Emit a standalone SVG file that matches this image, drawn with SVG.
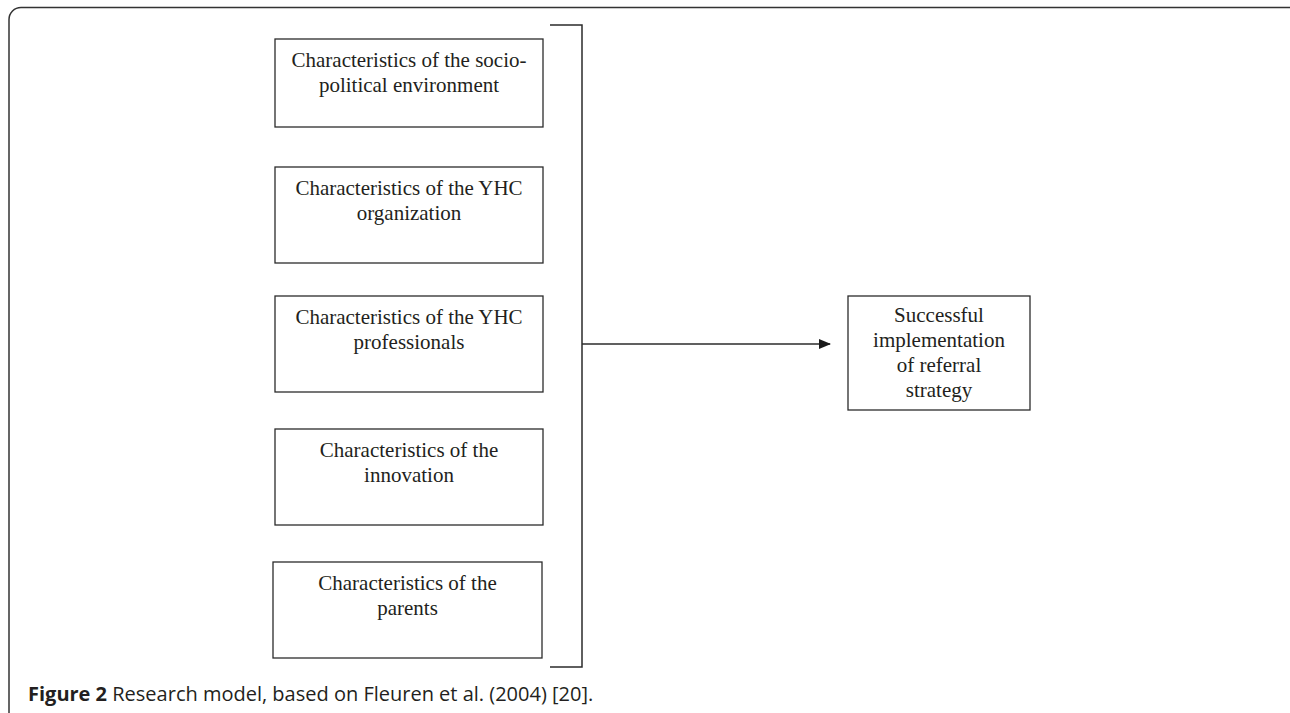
<svg xmlns="http://www.w3.org/2000/svg" width="1290" height="713" viewBox="0 0 1290 713">
<style>
.box{fill:#fff;stroke:#2b2b2b;stroke-width:1.3}
.t{font-family:"Liberation Serif","Times New Roman",serif;font-size:21px;fill:#231f20;text-anchor:middle}
.ln{fill:none;stroke:#2b2b2b;stroke-width:1.5}
.cap{font-family:"Open Sans","Noto Sans",sans-serif;font-size:20px;fill:#231f20}
</style>
<defs>
<marker id="ah" markerWidth="12" markerHeight="10" refX="11" refY="5" orient="auto" markerUnits="userSpaceOnUse">
<path d="M0,0 L12,5 L0,10 Z" fill="#1a1a1a"/>
</marker>
</defs>
<rect x="9" y="7.5" width="1300" height="720" rx="12" ry="12" fill="#fff" stroke="#333" stroke-width="1.5"/>
<g id="connectors">
<polyline class="ln" points="550,25 582,25 582,667 550,667"/>
<line class="ln" x1="582" y1="344" x2="830" y2="344" marker-end="url(#ah)"/>
</g>
<g id="n1">
<rect class="box" x="275" y="39" width="268" height="88"/>
<text class="t" x="409" y="67">Characteristics of the socio-</text>
<text class="t" x="409" y="92">political environment</text>
</g>
<g id="n2">
<rect class="box" x="275" y="167" width="268" height="96"/>
<text class="t" x="409" y="195">Characteristics of the YHC</text>
<text class="t" x="409" y="220">organization</text>
</g>
<g id="n3">
<rect class="box" x="275" y="296" width="268" height="96"/>
<text class="t" x="409" y="324">Characteristics of the YHC</text>
<text class="t" x="409" y="349">professionals</text>
</g>
<g id="n4">
<rect class="box" x="275" y="429" width="268" height="96"/>
<text class="t" x="409" y="457">Characteristics of the</text>
<text class="t" x="409" y="482">innovation</text>
</g>
<g id="n5">
<rect class="box" x="273" y="562" width="269" height="96"/>
<text class="t" x="407.5" y="590">Characteristics of the</text>
<text class="t" x="407.5" y="615">parents</text>
</g>
<g id="n6">
<rect class="box" x="848" y="296" width="182" height="114"/>
<text class="t" x="939" y="322">Successful</text>
<text class="t" x="939" y="347">implementation</text>
<text class="t" x="939" y="372">of referral</text>
<text class="t" x="939" y="397">strategy</text>
</g>
<text class="cap" x="28" y="701"><tspan font-weight="bold">Figure 2</tspan> Research model, based on Fleuren et al. (2004) [20].</text>
</svg>
